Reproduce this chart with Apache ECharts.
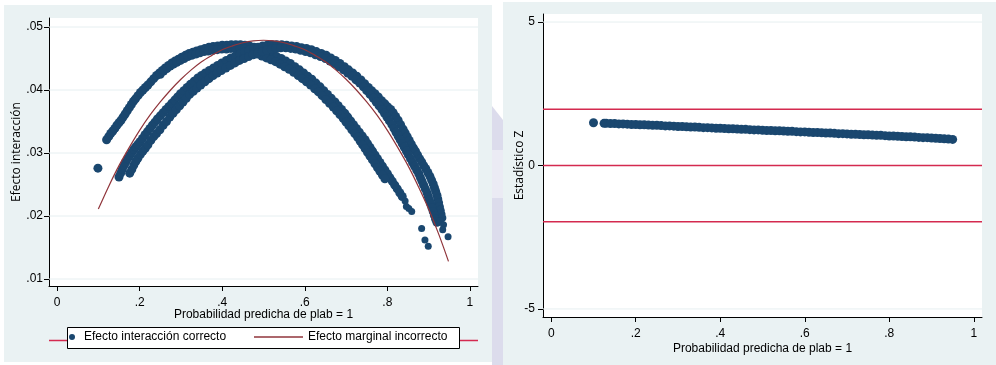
<!DOCTYPE html>
<html>
<head>
<meta charset="utf-8">
<script src="https://cdn.jsdelivr.net/npm/echarts@6/dist/echarts.min.js"></script>
<style>
html, body { margin: 0; padding: 0; background: #fff; }
#chart { width: 996px; height: 365px; }
</style>
</head>
<body>
<div id="chart"></div>
<script>
// ---------- data ----------
// Tick values
const xTicks = [0, 0.2, 0.4, 0.6, 0.8, 1];
const effectTicks = [0.01, 0.02, 0.03, 0.04, 0.05];
const zTicks = [-5, 0, 5];
const zCritical = [-1.96, 0, 1.96];

// Incorrect marginal effect (predicted probability -> effect)
const margProb = [0.100, 0.125, 0.150, 0.175, 0.200, 0.225, 0.250, 0.275, 0.300, 0.325, 0.350, 0.375, 0.400, 0.425, 0.450, 0.475, 0.500,
                  0.525, 0.550, 0.575, 0.600, 0.625, 0.650, 0.675, 0.700, 0.725, 0.750, 0.775, 0.800, 0.825, 0.850, 0.875, 0.900, 0.925, 0.948];
const margEffect = [0.0211, 0.0247, 0.0280, 0.0309, 0.0336, 0.0360, 0.0381, 0.0400, 0.0417, 0.0432, 0.0445, 0.0455, 0.0464, 0.0470, 0.0475, 0.0478, 0.0479,
                    0.0478, 0.0475, 0.0470, 0.0464, 0.0455, 0.0445, 0.0432, 0.0417, 0.0400, 0.0381, 0.0360, 0.0336, 0.0309, 0.0280, 0.0247, 0.0211, 0.0170, 0.0128];

// Correct interaction effect, first group of observations
const interA = [
  [0.099,0.0276],
  [0.120,0.0321],[0.125,0.0326],[0.130,0.0331],[0.135,0.0335],[0.140,0.0339],[0.145,0.0344],[0.150,0.0348],[0.155,0.0352],[0.160,0.0357],
  [0.165,0.0362],[0.170,0.0367],[0.175,0.0372],[0.180,0.0377],[0.185,0.0382],[0.190,0.0386],[0.196,0.0391],[0.202,0.0396],[0.208,0.0400],
  [0.214,0.0404],[0.220,0.0408],[0.227,0.0413],[0.234,0.0418],[0.241,0.0423],[0.248,0.0427],[0.255,0.0431],[0.262,0.0435],[0.270,0.0439],
  [0.278,0.0443],[0.286,0.0446],[0.294,0.0449],[0.302,0.0452],[0.311,0.0455],[0.320,0.0458],[0.329,0.0460],[0.338,0.0462],[0.348,0.0464],
  [0.358,0.0466],[0.368,0.0468],[0.378,0.0469],[0.389,0.0470],[0.400,0.0471],[0.411,0.0471],[0.422,0.0472],[0.433,0.0472],[0.444,0.0472],
  [0.455,0.0471],[0.466,0.0470],[0.477,0.0468],
  [0.488,0.0465],[0.499,0.0462],[0.510,0.0459],[0.521,0.0456],[0.532,0.0453],[0.543,0.0450],[0.554,0.0446],[0.565,0.0442],[0.576,0.0437],
  [0.587,0.0432],[0.597,0.0427],[0.607,0.0422],[0.617,0.0417],[0.627,0.0411],[0.637,0.0405],[0.646,0.0399],[0.655,0.0393],[0.664,0.0387],
  [0.673,0.0381],[0.681,0.0375],[0.689,0.0369],[0.697,0.0363],[0.704,0.0357],[0.711,0.0351],[0.718,0.0345],[0.725,0.0339],[0.732,0.0333],
  [0.739,0.0327],[0.746,0.0321],[0.752,0.0315],[0.758,0.0309],[0.764,0.0303],[0.770,0.0297],[0.776,0.0291],[0.782,0.0285],[0.788,0.0279],
  [0.794,0.0273],[0.800,0.0267],[0.806,0.0261],[0.812,0.0255],[0.818,0.0249],[0.824,0.0243],[0.830,0.0237],[0.836,0.0231]
];
const interALower = [
  [0.250,0.0425],[0.258,0.0430],[0.266,0.0434],[0.274,0.0438],[0.282,0.0441],[0.290,0.0444],[0.299,0.0447],[0.308,0.0450],[0.317,0.0453],
  [0.326,0.0455],[0.336,0.0457],[0.346,0.0459],[0.356,0.0461],[0.366,0.0462],[0.377,0.0463],[0.388,0.0464],[0.399,0.0465],[0.410,0.0465],
  [0.421,0.0466],[0.432,0.0466],[0.443,0.0466],[0.454,0.0465],[0.465,0.0464],[0.476,0.0462]
];
const interAInner = [
  [0.485,0.0457],[0.496,0.0454],[0.507,0.0451],[0.518,0.0448],[0.529,0.0445],[0.540,0.0441],[0.551,0.0437],[0.562,0.0433],[0.573,0.0428],
  [0.584,0.0423],[0.594,0.0418],[0.604,0.0413],[0.614,0.0408],[0.624,0.0402],[0.633,0.0397],[0.642,0.0391],[0.651,0.0385],[0.660,0.0379],
  [0.669,0.0373],[0.677,0.0367],[0.685,0.0361],[0.693,0.0355],[0.700,0.0349],[0.707,0.0343],[0.714,0.0337],[0.721,0.0331],[0.728,0.0325],
  [0.734,0.0319],[0.740,0.0313],[0.746,0.0307],[0.752,0.0301],[0.758,0.0295],[0.764,0.0289],[0.770,0.0283],[0.776,0.0277],[0.782,0.0271],
  [0.788,0.0265],[0.794,0.0259]
];
const interATail = [[0.843,0.0224],[0.846,0.0215],[0.852,0.0212],[0.859,0.0207],[0.883,0.0180],[0.891,0.0162],[0.899,0.0152]];

// Correct interaction effect, second group of observations
const interB = [
  [0.150,0.0262],[0.154,0.0268],[0.158,0.0274],[0.162,0.0280],[0.166,0.0285],[0.171,0.0291],[0.176,0.0296],[0.181,0.0301],[0.186,0.0306],
  [0.191,0.0310],[0.196,0.0314],[0.201,0.0318],[0.207,0.0323],[0.213,0.0329],[0.219,0.0334],[0.225,0.0339],[0.231,0.0344],[0.237,0.0349],
  [0.243,0.0354],[0.250,0.0359],[0.257,0.0364],[0.264,0.0369],[0.271,0.0374],[0.278,0.0379],[0.285,0.0384],[0.292,0.0389],[0.299,0.0394],
  [0.307,0.0399],[0.315,0.0404],[0.323,0.0409],[0.332,0.0414],[0.341,0.0419],[0.350,0.0423],[0.359,0.0427],[0.369,0.0431],[0.379,0.0435],
  [0.389,0.0439],[0.399,0.0443],[0.410,0.0447],[0.421,0.0451],[0.432,0.0454],[0.443,0.0457],[0.454,0.0460],[0.465,0.0463],[0.476,0.0466],
  [0.487,0.0468],[0.498,0.0470],[0.509,0.0471],[0.520,0.0472],
  [0.532,0.0472],[0.544,0.0472],[0.556,0.0471],[0.568,0.0470],[0.580,0.0469],[0.592,0.0467],[0.604,0.0466],[0.616,0.0464],[0.628,0.0461],
  [0.640,0.0458],[0.652,0.0455],[0.663,0.0451],[0.674,0.0447],[0.685,0.0442],[0.696,0.0437],[0.706,0.0432],[0.716,0.0427],[0.726,0.0422],
  [0.736,0.0416],[0.745,0.0410],[0.754,0.0404],[0.762,0.0399],[0.770,0.0394],[0.778,0.0389],[0.786,0.0383],[0.794,0.0378],[0.801,0.0373],
  [0.808,0.0369],[0.814,0.0364],[0.820,0.0358],[0.826,0.0352],[0.832,0.0345],[0.838,0.0338],[0.843,0.0332],[0.848,0.0326],[0.853,0.0320],
  [0.858,0.0314],[0.863,0.0308],[0.868,0.0303],[0.873,0.0297],[0.878,0.0291],[0.883,0.0286],[0.888,0.0280],[0.893,0.0275],[0.898,0.0269],
  [0.903,0.0263],[0.907,0.0257],[0.911,0.0251],[0.914,0.0245],[0.917,0.0239],[0.920,0.0233],[0.922,0.0227],[0.924,0.0221],[0.926,0.0215],
  [0.928,0.0209],[0.930,0.0203],[0.932,0.0197]
];
const interBInner = [
  [0.176,0.0268],[0.181,0.0274],[0.186,0.0281],[0.191,0.0287],[0.196,0.0292],[0.202,0.0298],[0.208,0.0303],[0.214,0.0308],[0.220,0.0313],
  [0.227,0.0320],[0.234,0.0326],[0.241,0.0331],[0.249,0.0337],[0.257,0.0344],[0.265,0.0350],[0.273,0.0357],[0.281,0.0363],[0.289,0.0369],
  [0.297,0.0375],[0.305,0.0381],[0.313,0.0387],[0.321,0.0393],[0.330,0.0398],[0.339,0.0403],[0.348,0.0408],[0.358,0.0413],[0.368,0.0418],
  [0.378,0.0423],[0.388,0.0427],[0.398,0.0431],[0.409,0.0435],[0.420,0.0439],[0.431,0.0443],[0.442,0.0447],[0.453,0.0450],[0.464,0.0453],
  [0.475,0.0456],[0.486,0.0459],[0.497,0.0461],[0.508,0.0463],[0.519,0.0465],[0.530,0.0466],[0.542,0.0467],[0.554,0.0467],[0.566,0.0466],
  [0.578,0.0465],[0.590,0.0463],[0.602,0.0461],[0.614,0.0459],[0.626,0.0456],[0.638,0.0453],[0.650,0.0450],[0.661,0.0446],[0.672,0.0442],
  [0.683,0.0437],[0.694,0.0432],[0.704,0.0427],[0.714,0.0422],[0.724,0.0416],[0.733,0.0411],[0.742,0.0405],[0.750,0.0399],[0.758,0.0393],
  [0.766,0.0387],[0.773,0.0381],[0.780,0.0375],[0.787,0.0369],[0.793,0.0363],[0.799,0.0357],[0.805,0.0351],[0.811,0.0345],[0.816,0.0339],
  [0.821,0.0333],[0.826,0.0327],[0.831,0.0321],[0.836,0.0315],[0.841,0.0309],[0.846,0.0303],[0.851,0.0297],[0.856,0.0291],[0.861,0.0285],
  [0.866,0.0279],[0.871,0.0273],[0.876,0.0267],[0.880,0.0261],[0.884,0.0255],[0.888,0.0249],[0.892,0.0243],[0.896,0.0237],[0.899,0.0231],
  [0.902,0.0225],[0.905,0.0219],[0.908,0.0213],[0.911,0.0207],[0.914,0.0201],[0.917,0.0195],[0.920,0.0190]
];
const interBTail = [[0.928,0.0192],[0.936,0.0186],[0.934,0.0178],[0.947,0.0167]];

// Z statistic of the interaction effect
const zPoints = [
  [0.100,1.49],[0.125,1.47],
  [0.13,1.47],[0.14,1.46],[0.15,1.46],[0.16,1.45],[0.17,1.45],[0.18,1.44],[0.19,1.43],[0.20,1.43],[0.21,1.42],[0.22,1.42],
  [0.23,1.41],[0.24,1.40],[0.25,1.40],[0.26,1.39],[0.27,1.38],[0.28,1.38],[0.29,1.37],[0.30,1.36],[0.31,1.36],[0.32,1.35],
  [0.33,1.34],[0.34,1.34],[0.35,1.33],[0.36,1.32],[0.37,1.32],[0.38,1.31],[0.39,1.30],[0.40,1.30],[0.41,1.29],[0.42,1.28],
  [0.43,1.28],[0.44,1.27],[0.45,1.26],[0.46,1.26],[0.47,1.25],[0.48,1.24],[0.49,1.24],[0.50,1.23],[0.51,1.22],[0.52,1.22],
  [0.53,1.21],[0.54,1.21],[0.55,1.20],[0.56,1.19],[0.57,1.19],[0.58,1.18],[0.59,1.17],[0.60,1.17],[0.61,1.16],[0.62,1.15],
  [0.63,1.15],[0.64,1.14],[0.65,1.13],[0.66,1.13],[0.67,1.12],[0.68,1.11],[0.69,1.11],[0.70,1.10],[0.71,1.09],[0.72,1.09],
  [0.73,1.08],[0.74,1.07],[0.75,1.07],[0.76,1.06],[0.77,1.05],[0.78,1.05],[0.79,1.04],[0.80,1.03],[0.81,1.03],[0.82,1.02],
  [0.83,1.01],[0.84,1.00],[0.85,1.00],[0.86,0.99],[0.87,0.98],[0.88,0.97],[0.89,0.97],[0.90,0.96],[0.91,0.95],[0.92,0.94],
  [0.93,0.93],[0.94,0.92],[0.95,0.91]
];

// ---------- styling ----------
const NAVY = '#1a476f';
const MAROON = '#90353b';
const CRIMSON = '#d42a4f';
const PANEL_BG = '#eaf2f3';
const GRID_LINE = '#e6eff1';
const LAVENDER = '#dcdcec';
const SANS = '"Liberation Sans", Arial, sans-serif';
const TITLE_FONT = '"Open Sans", "Noto Sans", sans-serif';

const LEG_INTER = 'Efecto interacción correcto';
const LEG_MARG = 'Efecto marginal incorrecto';

// axis extents (Stata-style padding around the tick range)
const X_MIN = -0.0195, X_MAX = 1.0195;
const EFF_MIN = 0.00889, EFF_MAX = 0.05143;
const Z_MIN = -5.28, Z_MAX = 5.28;

function tickText(v) {
  const s = String(+(+v).toFixed(4));
  return s.replace(/^0\./, '.').replace(/^-0\./, '-.');
}

function xAxisFor(gridIndex, nameGap) {
  return {
    gridIndex, type: 'value', min: X_MIN, max: X_MAX,
    name: 'Probabilidad predicha de plab = 1', nameLocation: 'middle', nameGap, nameMoveOverlap: false,
    nameTextStyle: { color: '#000', fontSize: 12, fontFamily: SANS },
    axisLine: { show: true, onZero: false, lineStyle: { color: '#000', width: 1 } },
    axisTick: { show: true, length: 5, customValues: xTicks, lineStyle: { color: '#000', width: 1 } },
    axisLabel: { customValues: xTicks, formatter: tickText, margin: 11, color: '#000', fontSize: 12, fontFamily: SANS },
    splitLine: { show: false }
  };
}

function hLines(values, xi, yi, color, width, z) {
  return values.map(v => ({
    type: 'line', xAxisIndex: xi, yAxisIndex: yi, silent: true, z,
    symbol: 'none', data: [[X_MIN, v], [X_MAX, v]],
    lineStyle: { color, width }, tooltip: { show: false }
  }));
}

function scatter(name, data, xi, yi, size) {
  return {
    name, type: 'scatter', xAxisIndex: xi, yAxisIndex: yi, data,
    symbol: 'circle', symbolSize: size, z: 2,
    itemStyle: { color: NAVY, opacity: 1 }
  };
}

const chart = echarts.init(document.getElementById('chart'), null, { renderer: 'canvas' });

const option = {
  animation: false,
  backgroundColor: '#ffffff',
  graphic: [
    { type: 'rect', z: -5, shape: { x: 4, y: 5, width: 488, height: 357 }, style: { fill: PANEL_BG } },
    { type: 'rect', z: -5, shape: { x: 503, y: 2, width: 493, height: 363 }, style: { fill: PANEL_BG } },
    // faint watermark between the panels
    { type: 'polygon', z: -5, shape: { points: [[492, 106], [503, 120], [503, 365], [492, 365]] }, style: { fill: LAVENDER } },
    { type: 'rect', z: -4, shape: { x: 492, y: 150, width: 11, height: 48 }, style: { fill: '#ebebf4' } },
    // legend frame and the rule running behind it
    { type: 'line', z: 2, shape: { x1: 49, y1: 340.5, x2: 478, y2: 340.5 }, style: { stroke: CRIMSON, lineWidth: 1.3 } },
    { type: 'rect', z: 3, shape: { x: 67.5, y: 327.5, width: 392, height: 21 }, style: { fill: '#fff', stroke: '#000', lineWidth: 1 } }
  ],
  grid: [
    { left: 49, top: 18, width: 429, height: 268, show: true, backgroundColor: '#fff', borderWidth: 0 },
    { left: 543, top: 14, width: 439, height: 303, show: true, backgroundColor: '#fff', borderWidth: 0 }
  ],
  xAxis: [xAxisFor(0, 23), xAxisFor(1, 26)],
  yAxis: [
    {
      gridIndex: 0, type: 'value', min: EFF_MIN, max: EFF_MAX,
      name: 'Efecto interacción', nameLocation: 'middle', nameGap: 26, nameRotate: 90, nameMoveOverlap: false,
      nameTextStyle: { color: '#000', fontSize: 12, fontFamily: TITLE_FONT },
      axisLine: { show: true, onZero: false, lineStyle: { color: '#000', width: 1 } },
      axisTick: { show: true, length: 5, customValues: effectTicks, lineStyle: { color: '#000', width: 1 } },
      axisLabel: { customValues: effectTicks, formatter: tickText, margin: 6, color: '#000', fontSize: 12, fontFamily: SANS },
      splitLine: { show: false }
    },
    {
      gridIndex: 1, type: 'value', min: Z_MIN, max: Z_MAX,
      name: 'Estadístico Z', nameLocation: 'middle', nameGap: 17, nameRotate: 90, nameMoveOverlap: false,
      nameTextStyle: { color: '#000', fontSize: 12, fontFamily: TITLE_FONT },
      axisLine: { show: true, onZero: false, lineStyle: { color: '#000', width: 1 } },
      axisTick: { show: true, length: 5, customValues: zTicks, lineStyle: { color: '#000', width: 1 } },
      axisLabel: { customValues: zTicks, formatter: tickText, margin: 8, color: '#000', fontSize: 12, fontFamily: SANS },
      splitLine: { show: false }
    }
  ],
  legend: [
    {
      data: [{ name: LEG_INTER, icon: 'circle' }], left: 69, top: 331, padding: 0,
      itemWidth: 14, itemHeight: 6, selectedMode: false,
      textStyle: { color: '#000', fontSize: 12, fontFamily: SANS }
    },
    {
      data: [{ name: LEG_MARG, icon: 'rect' }], left: 254, top: 331, padding: 0,
      itemWidth: 49, itemHeight: 1.3, selectedMode: false,
      textStyle: { color: '#000', fontSize: 12, fontFamily: SANS }
    }
  ],
  series: [
    ...hLines(effectTicks, 0, 0, GRID_LINE, 1, 1),
    scatter(LEG_INTER, interA, 0, 0, 9),
    scatter(LEG_INTER, interALower, 0, 0, 9),
    scatter(LEG_INTER, interAInner, 0, 0, 9),
    scatter(LEG_INTER, interATail, 0, 0, 7),
    scatter(LEG_INTER, interB, 0, 0, 9),
    scatter(LEG_INTER, interBInner, 0, 0, 9),
    scatter(LEG_INTER, interBTail, 0, 0, 7),
    {
      name: LEG_MARG, type: 'line', xAxisIndex: 0, yAxisIndex: 0, z: 3,
      data: margProb.map((p, i) => [p, margEffect[i]]),
      symbol: 'none', smooth: 0.3,
      lineStyle: { color: MAROON, width: 1.2 }, itemStyle: { color: MAROON }
    },
    ...hLines(zTicks, 1, 1, GRID_LINE, 1, 1),
    ...hLines(zCritical, 1, 1, CRIMSON, 1.5, 3),
    scatter('Estadístico Z', zPoints, 1, 1, 9)
  ]
};

chart.setOption(option);
</script>
</body>
</html>
